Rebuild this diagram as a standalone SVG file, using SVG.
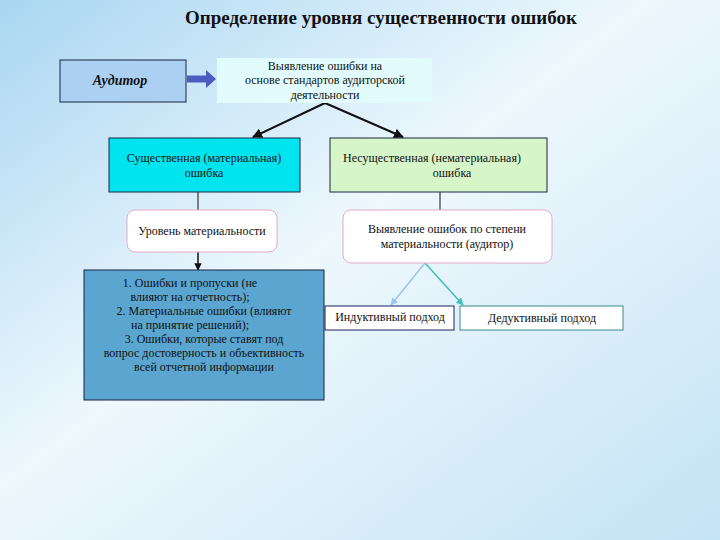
<svg xmlns="http://www.w3.org/2000/svg" width="720" height="540" viewBox="0 0 720 540">
<defs>
<linearGradient id="bg" x1="0" y1="0" x2="1" y2="1">
<stop offset="0" stop-color="#a9d6f2"/><stop offset="0.45" stop-color="#eef8fd"/><stop offset="1" stop-color="#c4e3f5"/>
</linearGradient>
<marker id="ab" viewBox="0 0 10 10" refX="9" refY="5" markerWidth="5" markerHeight="5" orient="auto"><path d="M0,0L10,5L0,10z" fill="#111"/></marker>
<marker id="al" viewBox="0 0 10 10" refX="9" refY="5" markerWidth="5" markerHeight="5" orient="auto"><path d="M0,0L10,5L0,10z" fill="#9cc4ec"/></marker>
<marker id="at" viewBox="0 0 10 10" refX="9" refY="5" markerWidth="5" markerHeight="5" orient="auto"><path d="M0,0L10,5L0,10z" fill="#3cc0c0"/></marker>
</defs>
<style>
text{font-family:"Liberation Serif",serif;font-size:12px;fill:#111;text-anchor:middle}
.b{stroke:#1a2540;stroke-width:1}
.r{fill:#fff;stroke:#e8a8c8;stroke-width:1}
</style>
<rect width="720" height="540" fill="url(#bg)"/>
<text x="381" y="24" style="font-size:19px;font-weight:bold">Определение уровня существенности ошибок</text>
<g id="connectors" fill="none">
<path d="M187,79H208" stroke="#4a5cc0" stroke-width="7"/>
<path d="M206,70L216,79L206,88z" fill="#4a5cc0"/>
<path d="M325,103L253,137" stroke="#111" stroke-width="2" marker-end="url(#ab)"/>
<path d="M325,103L403,137" stroke="#111" stroke-width="2" marker-end="url(#ab)"/>
<path d="M198,192V211" stroke="#111"/>
<path d="M440,192V210" stroke="#111"/>
<path d="M198,252V270" stroke="#111" stroke-width="1.5" marker-end="url(#ab)"/>
<path d="M425,263L391,305" stroke="#9cc4ec" stroke-width="1.5" marker-end="url(#al)"/>
<path d="M425,263L463,305" stroke="#3cc0c0" stroke-width="1.5" marker-end="url(#at)"/>
</g>
<g id="auditor"><rect x="60" y="60" width="126" height="42" fill="#abd0f2" class="b"/><text x="120" y="85" style="font-size:14px;font-weight:bold;font-style:italic">Аудитор</text></g>
<g id="detect"><rect x="217" y="58" width="215" height="45" fill="#e2fbfd"/><text x="325" y="70">Выявление ошибки на</text><text x="325" y="84">основе стандартов аудиторской</text><text x="325" y="99">деятельности</text></g>
<g id="material"><rect x="109" y="138" width="191" height="54" fill="#00e4ef" class="b"/><text x="204" y="162">Существенная (материальная)</text><text x="204" y="177">ошибка</text></g>
<g id="nonmaterial"><rect x="330" y="138" width="217" height="54" fill="#d6f5c8" class="b"/><text x="432" y="162">Несущественная (нематериальная)</text><text x="452" y="177">ошибка</text></g>
<g id="level"><rect x="127" y="210" width="150" height="42" rx="8" class="r"/><text x="202" y="235">Уровень материальности</text></g>
<g id="reveal"><rect x="343" y="210" width="209" height="53" rx="8" class="r"/><text x="447" y="233">Выявление ошибок по степени</text><text x="447" y="248">материальности (аудитор)</text></g>
<g id="list"><rect x="84" y="270" width="240" height="130" fill="#5aa6d0" class="b"/>
<text x="190" y="287">1. Ошибки и пропуски (не</text><text x="190" y="301">влияют на отчетность);</text><text x="204" y="315">2. Материальные ошибки (влияют</text><text x="190" y="329">на принятие решений);</text><text x="204" y="343">3. Ошибки, которые ставят под</text><text x="204" y="357">вопрос достоверность и объективность</text><text x="204" y="371">всей отчетной информации</text></g>
<g id="inductive"><rect x="325" y="306" width="129" height="24" fill="#fff" stroke="#1a2060"/><text x="390" y="321">Индуктивный подход</text></g>
<g id="deductive"><rect x="460" y="306" width="163" height="24" fill="#fff" stroke="#3a8a8a"/><text x="542" y="322">Дедуктивный подход</text></g>
</svg>
